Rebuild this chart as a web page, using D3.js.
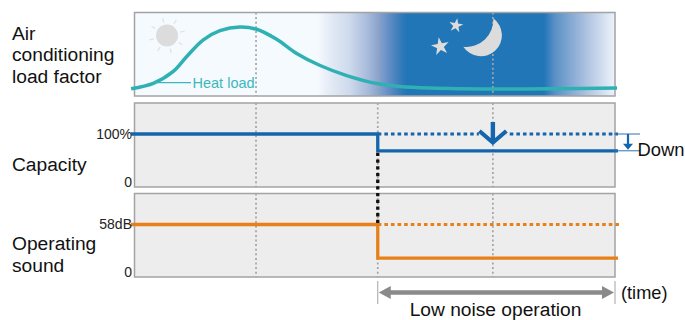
<!DOCTYPE html>
<html><head><meta charset="utf-8">
<script src="https://cdn.jsdelivr.net/npm/d3@7"></script>
<style>html,body{margin:0;padding:0;background:#fff}svg{display:block}text{font-family:"Liberation Sans",Arial,sans-serif}</style>
</head><body><svg id="c" width="685" height="320"></svg>
<script>
const gridHours=[6.07,12.15,17.9];
const heatHours=[-0.17,0.94,1.92,2.6,3.42,4.27,5.27,6.1,7.1,8.1,9.27,10.6,12.1,13.26,14.76,17.9,21,24.1];
const heatLoad=[8.7,15.2,29.1,47,67,78.2,82.6,79.9,67.9,51,36.5,24.5,15,11.4,9.6,8.4,8.7,9.6];
const switchHour=[12.15];
const capacityNormal=[100,100];
const capacityLow=[100,65,65];
const soundNormal=[58,58];
const soundLow=[58,17,17];
const capacityTicks=[0,100];
const soundTicks=[0,58];
const capacityTickLabels=["0","100%"];
const soundTickLabels=["0","58dB"];
const skyHours=[0,9.12,9.92,10.76,11.6,12.15,12.75,13.4,13.6,20.45,21,22.75,23.9];
const skyColors=["#f5faff","#f5faff","#e0e8f4","#cdd9ec","#aabcdc","#8aa5d0","#5f8cc4","#2e78b8","#2176b8","#2176b8","#5a90c6","#b6c8e3","#e9f0fa"];

const svg=d3.select("#c");
const x=d3.scaleLinear().domain([0,24]).range([134.5,615]);
const yLoad=d3.scaleLinear().domain([0,100]).range([96,12.5]);
const yCap=d3.scaleLinear().domain([0,100]).range([182,134]);
const ySound=d3.scaleLinear().domain([0,58]).range([272,224.5]);
const panels=[[12.5,96,"url(#sky)"],[103,187,"#ededed"],[193.5,277,"#ededed"]];

const grad=svg.append("defs").append("linearGradient").attr("id","sky")
 .attr("gradientUnits","userSpaceOnUse").attr("x1",x(0)).attr("x2",x(24)).attr("y1",0).attr("y2",0);
skyHours.forEach((h,i)=>grad.append("stop").attr("offset",h/24).attr("stop-color",skyColors[i]));

// panels
svg.selectAll("rect.p").data(panels).join("rect").attr("class","p")
 .attr("x",x(0)).attr("width",x(24)-x(0)).attr("y",d=>d[0]).attr("height",d=>d[1]-d[0])
 .attr("fill",d=>d[2]);

// sun
const sun=svg.append("g").attr("transform","translate(167,35.5)");
sun.append("circle").attr("r",11).attr("fill","#dcdcdc");
d3.range(8).forEach(i=>{const a=(-104+45*i)*Math.PI/180;
 sun.append("line").attr("x1",13.5*Math.cos(a)).attr("y1",13.5*Math.sin(a)).attr("x2",18*Math.cos(a)).attr("y2",18*Math.sin(a))
 .attr("stroke","#e2e2e2").attr("stroke-width",1.3);});

// grid
panels.forEach(p=>{svg.selectAll(null).data(gridHours).join("line")
 .attr("x1",d=>x(d)).attr("x2",d=>x(d)).attr("y1",p[0]).attr("y2",p[1])
 .attr("stroke","#a4a4a4").attr("stroke-width",1.7).attr("stroke-dasharray","2 2.6");});

// moon & stars
svg.append("path").attr("d","M493.3,18.3A21,21 0 1 1 463.3,46.7A27,27 0 0 0 493.3,18.3Z").attr("fill","#dcdcdc");
svg.append("path").attr("d",d3.symbol(d3.symbolStar,62)).attr("transform","translate(456,25.5) rotate(10)").attr("fill","#dcdcdc");
svg.append("path").attr("d",d3.symbol(d3.symbolStar,100)).attr("transform","translate(440.3,46.5) rotate(-10)").attr("fill","#dcdcdc");

// panel borders above the fill and grid
svg.selectAll("rect.b").data(panels).join("rect").attr("class","b")
 .attr("x",x(0)).attr("width",x(24)-x(0)).attr("y",d=>d[0]).attr("height",d=>d[1]-d[0])
 .attr("fill","none").attr("stroke","#a3a3a3").attr("stroke-width",1.5);

// heat curve
const heat=d3.line().x((d,i)=>x(heatHours[i])).y(d=>yLoad(d)).curve(d3.curveCatmullRom.alpha(.5));
svg.append("path").attr("d",heat(heatLoad)).attr("fill","none").attr("stroke","#2fb1b3").attr("stroke-width",3.5);
svg.append("line").attr("x1",155).attr("x2",191).attr("y1",82.7).attr("y2",82.7).attr("stroke","#3bb8bb").attr("stroke-width",1.3);
svg.append("text").attr("x",192.5).attr("y",87.5).attr("font-size",14.5).attr("fill","#3bb8bb").text("Heat load");

// series
function series(y,normal,low,color,dotEnd){
 const s=switchHour[0];
 svg.append("line").attr("x1",x(s)).attr("x2",dotEnd).attr("y1",y(normal[1])).attr("y2",y(normal[1]))
  .attr("stroke",color).attr("stroke-width",3.2).attr("stroke-dasharray","3.6 3");
 const pts=[[131,y(normal[0])],[x(s),y(low[0])],[x(s),y(low[1])],[618,y(low[2])]];
 svg.append("path").attr("d",d3.line()(pts)).attr("fill","none").attr("stroke",color).attr("stroke-width",3.3);
}
series(yCap,capacityNormal,capacityLow,"#1465ad",618);
series(ySound,soundNormal,soundLow,"#e8801a",620);

// black link
svg.append("line").attr("x1",x(switchHour[0])).attr("x2",x(switchHour[0])).attr("y1",yCap(capacityLow[1])+2).attr("y2",ySound(58)-1)
 .attr("stroke","#111").attr("stroke-width",3.3).attr("stroke-dasharray","3.3 3.4");

// big down arrow
const ax=x(gridHours[2]);
svg.append("path").attr("d",`M${ax-14},${yCap(100)-3}H${ax+14}V${yCap(100)+3}H${ax-14}Z`).attr("fill","#ededed");
svg.append("path").attr("d",`M${ax},${yCap(100)-12}V${yCap(100)+7}`).attr("fill","none").attr("stroke","#1465ad").attr("stroke-width",4.4);
svg.append("path").attr("d",`M${ax-13.5},${yCap(100)-3}L${ax},${yCap(100)+8.5}L${ax+13.5},${yCap(100)-3}`)
 .attr("fill","none").attr("stroke","#1465ad").attr("stroke-width",4.2);

// small Down marker
[100,65].forEach(v=>svg.append("line").attr("x1",614).attr("x2",640).attr("y1",yCap(v)).attr("y2",yCap(v)).attr("stroke","#2a72b5").attr("stroke-width",1));
svg.append("line").attr("x1",628).attr("x2",628).attr("y1",yCap(100)).attr("y2",yCap(65)-3).attr("stroke","#1465ad").attr("stroke-width",2.2);
svg.append("path").attr("d",`M623,${yCap(65)-7}H633L628,${yCap(65)-1}Z`).attr("fill","#1465ad");
svg.append("text").attr("x",637.5).attr("y",155.5).attr("font-size",18.4).attr("fill","#111").text("Down");

// axes
function axis(scale,ticks,labels){
 const g=svg.append("g").attr("transform","translate(132,0)")
  .call(d3.axisLeft(scale).tickValues(ticks).tickFormat((d,i)=>labels[i]).tickSize(0).tickPadding(0));
 g.select(".domain").remove();
 g.selectAll("text").attr("font-size",14).attr("fill","#222").style("font-family",'"Liberation Sans",Arial,sans-serif');
}
axis(yCap,capacityTicks,capacityTickLabels);
axis(ySound,soundTicks,soundTickLabels);

// titles
const titles=[["Air",39.5],["conditioning",61],["load factor",82.5],["Capacity",170.5],["Operating",249.5],["sound",271.5]];
svg.selectAll("text.t").data(titles).join("text").attr("class","t").attr("x",12).attr("y",d=>d[1])
 .attr("font-size",19.2).attr("fill","#111").text(d=>d[0]);

// time span
const sx0=x(switchHour[0]), sx1=x(24);
[sx0,sx1].forEach(v=>svg.append("line").attr("x1",v).attr("x2",v).attr("y1",281).attr("y2",304).attr("stroke","#a3a3a3").attr("stroke-width",1));
svg.append("line").attr("x1",sx0+6).attr("x2",sx1-6).attr("y1",292.5).attr("y2",292.5).attr("stroke","#8a8a8a").attr("stroke-width",4.6);
svg.append("path").attr("d",`M${sx0+1},292.5L${sx0+13},286V299Z`).attr("fill","#8a8a8a");
svg.append("path").attr("d",`M${sx1-1},292.5L${sx1-13},286V299Z`).attr("fill","#8a8a8a");
svg.append("text").attr("x",621).attr("y",298.5).attr("font-size",18.2).attr("fill","#111").text("(time)");
svg.append("text").attr("x",495.5).attr("y",315.5).attr("text-anchor","middle").attr("font-size",19.2).attr("fill","#111").text("Low noise operation");
</script></body></html>
